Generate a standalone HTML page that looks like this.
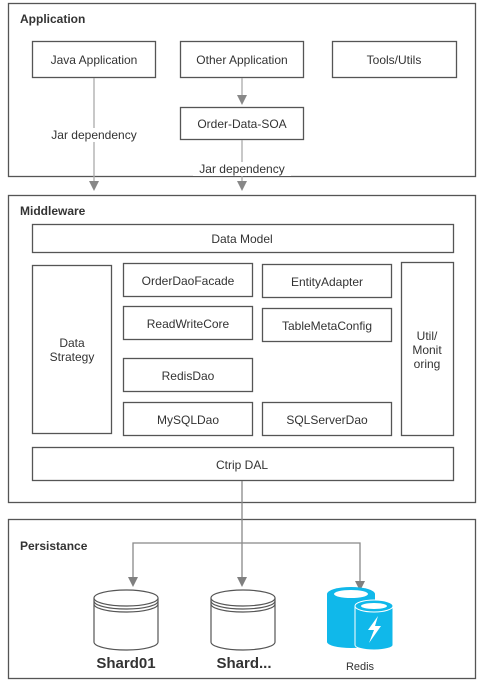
<!DOCTYPE html>
<html><head><meta charset="utf-8"><style>
html,body{margin:0;padding:0;background:#fff;}
svg{display:block;}
text{font-family:"Liberation Sans",sans-serif;fill:#333;}
</style></head><body>
<svg width="480" height="681" viewBox="0 0 480 681" xmlns="http://www.w3.org/2000/svg">
<g fill="none" stroke="#555" stroke-width="1.3">
<rect x="8.5" y="3.5" width="467" height="173"/>
<rect x="8.5" y="195.5" width="467" height="307"/>
<rect x="8.5" y="519.5" width="467" height="159"/>
<rect x="32.5" y="41.5" width="123" height="36"/>
<rect x="180.5" y="41.5" width="123" height="36"/>
<rect x="332.5" y="41.5" width="124" height="36"/>
<rect x="180.5" y="107.5" width="123" height="32"/>
<rect x="32.5" y="224.5" width="421" height="28"/>
<rect x="32.5" y="265.5" width="79" height="168"/>
<rect x="123.5" y="263.5" width="129" height="33"/>
<rect x="262.5" y="264.5" width="129" height="33"/>
<rect x="123.5" y="306.5" width="129" height="33"/>
<rect x="262.5" y="308.5" width="129" height="33"/>
<rect x="123.5" y="358.5" width="129" height="33"/>
<rect x="123.5" y="402.5" width="129" height="33"/>
<rect x="262.5" y="402.5" width="129" height="33"/>
<rect x="401.5" y="262.5" width="52" height="173"/>
<rect x="32.5" y="447.5" width="421" height="33"/>
</g>
<g stroke="#aaa" stroke-width="1.3" fill="none">
<line x1="94" y1="78" x2="94" y2="182"/>
<line x1="242" y1="78" x2="242" y2="96"/>
<line x1="242" y1="140" x2="242" y2="182"/>
</g>
<g fill="#888">
<polygon points="89,181 99,181 94,191"/>
<polygon points="237,95 247,95 242,105"/>
<polygon points="237,181 247,181 242,191"/>
</g>
<g stroke="#888" stroke-width="1.3" fill="none">
<line x1="242" y1="481" x2="242" y2="578"/>
<polyline points="133,578 133,543 360,543 360,582" />
</g>
<g fill="#808080">
<polygon points="128,577 138,577 133,587"/>
<polygon points="237,577 247,577 242,587"/>
<polygon points="355,581 365,581 360,591"/>
</g>
<rect x="45" y="128" width="100" height="14" fill="#fff"/>
<rect x="193" y="162" width="98" height="14" fill="#fff"/>
<g font-size="12">
<text x="20" y="23" font-weight="bold" font-size="12" fill="#222">Application</text>
<text x="20" y="215" font-weight="bold" fill="#222">Middleware</text>
<text x="20" y="550" font-weight="bold" fill="#222">Persistance</text>
</g>
<g font-size="12" text-anchor="middle">
<text x="94" y="64">Java Application</text>
<text x="242" y="64">Other Application</text>
<text x="394" y="64">Tools/Utils</text>
<text x="242" y="128">Order-Data-SOA</text>
<text x="94" y="139" fill="#555">Jar dependency</text>
<text x="242" y="173" fill="#555">Jar dependency</text>
<text x="242" y="243">Data Model</text>
<text x="72" y="347">Data</text>
<text x="72" y="361">Strategy</text>
<text x="188" y="285">OrderDaoFacade</text>
<text x="327" y="286">EntityAdapter</text>
<text x="188" y="328">ReadWriteCore</text>
<text x="327" y="330">TableMetaConfig</text>
<text x="188" y="380">RedisDao</text>
<text x="188" y="424">MySQLDao</text>
<text x="327" y="424">SQLServerDao</text>
<text x="427" y="340">Util/</text>
<text x="427" y="354">Monit</text>
<text x="427" y="368">oring</text>
<text x="242" y="469">Ctrip DAL</text>
<text x="126" y="668" font-size="15" font-weight="bold" fill="#777">Shard01</text>
<text x="244" y="668" font-size="15" font-weight="bold" fill="#777">Shard...</text>
<text x="360" y="670" font-size="11" fill="#555">Redis</text>
</g>
<g fill="#fff" stroke="#555" stroke-width="1.2">
<path d="M94,598 V642 A32,8 0 0 0 158,642 V598"/>
<ellipse cx="126" cy="598" rx="32" ry="8"/>
<path d="M94,601 A32,8 0 0 0 158,601 M94,604 A32,8 0 0 0 158,604" fill="none"/>
<path d="M211,598 V642 A32,8 0 0 0 275,642 V598"/>
<ellipse cx="243" cy="598" rx="32" ry="8"/>
<path d="M211,601 A32,8 0 0 0 275,601 M211,604 A32,8 0 0 0 275,604" fill="none"/>
</g>
<g>
<path d="M327,594 V642 A24,6 0 0 0 375,642 V594 Z" fill="#10b8ea"/>
<ellipse cx="351" cy="594" rx="24" ry="7" fill="#10b8ea"/>
<ellipse cx="351" cy="594" rx="17" ry="4" fill="#fff"/>
<path d="M355,606 V645 A19,5 0 0 0 393,645 V606 Z" fill="#10b8ea" stroke="#fff" stroke-width="1"/>
<ellipse cx="374" cy="606" rx="19" ry="6" fill="#10b8ea" stroke="#fff" stroke-width="1"/>
<ellipse cx="374" cy="606" rx="13" ry="3" fill="#fff"/>
<path d="M378,616 L368,630 L374,630 L369,643 L381,626 L375,626 Z" fill="#fff"/>
</g>
</svg>
</body></html>
